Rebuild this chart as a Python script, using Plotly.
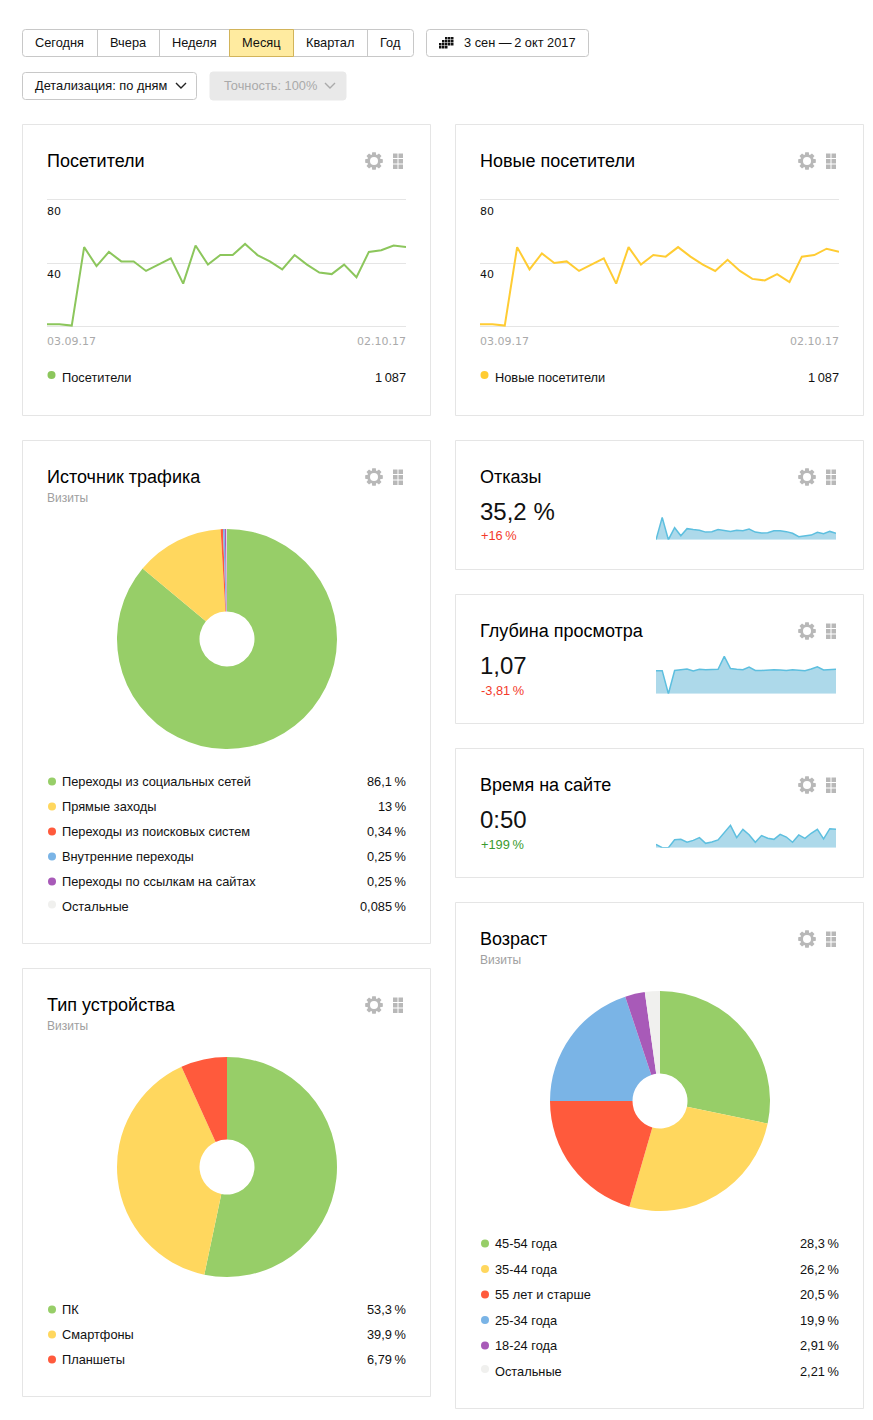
import math
import pandas as pd
import plotly.graph_objects as go

WIDTH = 873
HEIGHT = 1420
FONT = 'Liberation Sans'
TICK_FONT = 'DejaVu Sans'
BODY_SIZE = 12.8

# data
days = pd.date_range('2017-09-03', '2017-10-02').strftime('%Y-%m-%d').tolist()
visitors = [1.4, 1.4, 0.6, 50, 38, 47, 41, 41, 35, 39, 43, 27, 51, 39, 45, 45, 52, 45, 41, 36, 45, 39, 34, 33, 39, 31, 47, 48, 51, 50]
new_visitors = [1.4, 1.4, 0.6, 50, 36, 46, 40, 41, 35, 39, 43, 27, 50, 39, 45, 44, 50, 44, 39, 35, 42, 35, 30, 29, 33, 28, 44, 45, 49, 47]
bounce = [0, 97, 0, 52, 17, 48, 44, 41, 33, 35, 44, 41, 36, 41, 39, 46, 33, 29, 30, 39, 39, 35, 28, 13, 16, 20, 32, 26, 36, 28]
depth = [1.0, 1.0, 0, 1.01, 1.04, 1.07, 0.99, 1.06, 1.04, 1.04, 1.06, 1.62, 1.09, 1.06, 1.04, 1.16, 1.01, 1.01, 1.04, 1.04, 1.03, 1.01, 1.04, 1.03, 1.0, 1.07, 1.17, 1.03, 1.06, 1.06]
site_time = [16, 0, 0, 38, 40, 26, 35, 48, 21, 27, 37, 72, 107, 48, 88, 62, 26, 58, 45, 40, 64, 51, 26, 61, 45, 69, 88, 42, 91, 88]

source_labels = ['Переходы из социальных сетей', 'Прямые заходы', 'Переходы из поисковых систем', 'Внутренние переходы', 'Переходы по ссылкам на сайтах', 'Остальные']
source_values = [86.1, 13, 0.34, 0.25, 0.25, 0.085]
source_text = ['86,1\u2009%', '13\u2009%', '0,34\u2009%', '0,25\u2009%', '0,25\u2009%', '0,085\u2009%']

device_labels = ['ПК', 'Смартфоны', 'Планшеты']
device_values = [53.3, 39.9, 6.79]
device_text = ['53,3\u2009%', '39,9\u2009%', '6,79\u2009%']

age_labels = ['45-54 года', '35-44 года', '55 лет и старше', '25-34 года', '18-24 года', 'Остальные']
age_values = [28.3, 26.2, 20.5, 19.9, 2.91, 2.21]
age_text = ['28,3\u2009%', '26,2\u2009%', '20,5\u2009%', '19,9\u2009%', '2,91\u2009%', '2,21\u2009%']

period_labels = ['Сегодня', 'Вчера', 'Неделя', 'Месяц', 'Квартал', 'Год']
period_edges = [22, 97, 159, 229, 293, 367, 414]
calendar_rows = [[2, 3, 4], [1, 2, 3, 4], [0, 1, 2, 3, 4], [0, 1, 2]]

PIE_COLORS = ['#97ce68', '#ffd75e', '#ff5a3c', '#7ab4e6', '#a85ab8', '#f0f0ee']
TEXT = '#111111'
BORDER = '#e5e5e5'
RED = '#f33a2a'
GREEN = '#3a9a2e'

fig = go.Figure()
shapes = []
annotations = []


def px(x):
    return x / WIDTH


def py(y):
    return 1 - y / HEIGHT


def text(x, y, s, size=BODY_SIZE, color=TEXT, anchor='left', family=FONT):
    annotations.append(dict(x=px(x), y=py(y), xref='paper', yref='paper', text=s, showarrow=False,
                            xanchor=anchor, yanchor='middle', borderpad=0, borderwidth=0, align=anchor,
                            font=dict(family=family, size=size, color=color)))


def rect(x0, y0, x1, y1, line=BORDER, fill='#ffffff', width=1):
    shapes.append(dict(type='rect', xref='paper', yref='paper', x0=px(x0), x1=px(x1), y0=py(y0), y1=py(y1),
                       line=dict(color=line, width=width), fillcolor=fill, layer='below'))


def button(x0, y0, x1, y1, line='#c8c8c8', fill='#ffffff', r=3):
    # rounded rectangle, plotly has no corner radius on rect shapes
    pts = [f'M {px(x0 + r)} {py(y0)}', f'L {px(x1 - r)} {py(y0)}', f'Q {px(x1)} {py(y0)} {px(x1)} {py(y0 + r)}',
           f'L {px(x1)} {py(y1 - r)}', f'Q {px(x1)} {py(y1)} {px(x1 - r)} {py(y1)}', f'L {px(x0 + r)} {py(y1)}',
           f'Q {px(x0)} {py(y1)} {px(x0)} {py(y1 - r)}', f'L {px(x0)} {py(y0 + r)}', f'Q {px(x0)} {py(y0)} {px(x0 + r)} {py(y0)} Z']
    shapes.append(dict(type='path', xref='paper', yref='paper', path=' '.join(pts), line=dict(color=line, width=1),
                       fillcolor=fill, layer='below'))


def dot(x, y, color, r=4):
    shapes.append(dict(type='circle', xref='paper', yref='paper', x0=px(x - r), x1=px(x + r), y0=py(y - r), y1=py(y + r),
                       line=dict(width=0), fillcolor=color))


def chevron(x, y, color):
    p = f'M {px(x - 5)} {py(y - 2.5)} L {px(x)} {py(y + 2.5)} L {px(x + 5)} {py(y - 2.5)}'
    shapes.append(dict(type='path', xref='paper', yref='paper', path=p, line=dict(color=color, width=1.4)))


def gear(cx, cy):
    pts = []
    for i in range(8):
        a = i * math.pi / 4
        for da, r in [(-0.33, 6.6), (-0.2, 9), (0.2, 9), (0.33, 6.6)]:
            pts.append((cx + r * math.cos(a + da), cy + r * math.sin(a + da)))
    p = 'M ' + ' L '.join(f'{px(a)} {py(b)}' for a, b in pts) + ' Z'
    shapes.append(dict(type='path', xref='paper', yref='paper', path=p, line=dict(width=0), fillcolor='#b8b8b8'))
    dot(cx, cy, '#ffffff', 4)


def icons(x, y):
    # gear and drag handle in the card corner
    gear(x, y)
    for col in [0, 5.5]:
        for row in [0, 5.5, 11]:
            shapes.append(dict(type='rect', xref='paper', yref='paper', x0=px(x + 19 + col), x1=px(x + 23.5 + col),
                               y0=py(y - 7.5 + row), y1=py(y - 3 + row), line=dict(width=0), fillcolor='#b8b8b8'))


def card(x0, y0, x1, y1, title, subtitle=None):
    rect(x0 + 0.5, y0 + 0.5, x1 - 0.5, y1 - 0.5)
    text(x0 + 25, y0 + 37, title, size=18, color='#000000')
    if subtitle:
        text(x0 + 25, y0 + 58, subtitle, size=12, color='#a0a0a0')
    icons(x0 + 352, y0 + 37)


def axes(n, x0, y0, x1, y1, yrange, grid):
    fig.update_layout({
        f'xaxis{n}': dict(domain=[px(x0), px(x1)], range=[days[0], days[-1]], type='date', visible=False, anchor=f'y{n}'),
        f'yaxis{n}': dict(domain=[py(y1), py(y0)], range=yrange, anchor=f'x{n}', showticklabels=False, zeroline=False,
                          showline=False, ticks='', tickvals=grid, showgrid=bool(grid), gridcolor='#e5e5e5', gridwidth=1,
                          visible=bool(grid)),
    })


def line_card(n, x0, title, values, color):
    card(x0, 124, x0 + 409, 416, title)
    left, right = x0 + 25, x0 + 384
    # 10px of slack above and below so plotly keeps the 0 and 80 gridlines
    axes(n, left, 189.5, right, 336.5, [-6.3, 86.3], [0, 40, 80])
    fig.add_trace(go.Scatter(x=days, y=values, mode='lines', xaxis=f'x{n}', yaxis=f'y{n}', cliponaxis=False,
                             line=dict(color=color, width=2), hoverinfo='skip'))
    for tick in [80, 40]:
        annotations.append(dict(x=days[0], y=tick, xref=f'x{n}', yref=f'y{n}', text=str(tick), showarrow=False, xanchor='left',
                                yanchor='top', xshift=-1, yshift=-5 if tick == 80 else -4, borderpad=0,
                                font=dict(family=TICK_FONT, size=11, color=TEXT)))
    text(left, 341, '03.09.17', size=11, color='#aaaaaa', family=TICK_FONT)
    text(right, 341, '02.10.17', size=11, color='#aaaaaa', anchor='right', family=TICK_FONT)
    dot(left + 4.5, 375, color)
    text(left + 15, 377.5, title)
    text(right, 377.5, '1\u2009087', anchor='right')


def metric_card(n, y0, title, value, delta, delta_color, values, yrange, base):
    card(455, y0, 864, y0 + 130, title)
    text(480, y0 + 71.5, value, size=24)
    text(481, y0 + 96, delta, color=delta_color)
    axes(n, 656, base - 38, 836, base, yrange, [])
    fig.add_trace(go.Scatter(x=days, y=values, mode='lines', fill='tozeroy', xaxis=f'x{n}', yaxis=f'y{n}', cliponaxis=False,
                             line=dict(color='#5dbfdf', width=1.5), fillcolor='#add9ea', hoverinfo='skip'))


def pie_card(x0, y0, y1, title, labels, values, labels_text, cy, legend_y, step):
    card(x0, y0, x0 + 409, y1, title, 'Визиты')
    cx = x0 + 205
    fig.add_trace(go.Pie(values=values, labels=labels, sort=False, direction='clockwise', rotation=0, hole=0.25,
                         textinfo='none', hoverinfo='skip', showlegend=False,
                         marker=dict(colors=PIE_COLORS, line=dict(width=0)),
                         domain=dict(x=[px(cx - 110), px(cx + 110)], y=[py(cy + 110), py(cy - 110)])))
    for i, label in enumerate(labels):
        yy = legend_y + i * step
        # the pale "Остальные" dot sits a little higher in the original
        dot(x0 + 30, yy - (2 if label == 'Остальные' else 0), PIE_COLORS[i])
        text(x0 + 40, yy, label)
        text(x0 + 384, yy, labels_text[i], anchor='right')


# toolbar
button(22.5, 29.5, 413.5, 56.5)
for i, label in enumerate(period_labels):
    if label == 'Месяц':
        rect(period_edges[i] + 0.5, 29.5, period_edges[i + 1] + 0.5, 56.5, line='#d2b45a', fill='#ffeba0')
    elif i > 0 and period_labels[i - 1] != 'Месяц':
        shapes.append(dict(type='line', xref='paper', yref='paper', x0=px(period_edges[i] + 0.5), x1=px(period_edges[i] + 0.5),
                           y0=py(30), y1=py(56), line=dict(color='#c8c8c8', width=1)))
    text((period_edges[i] + period_edges[i + 1]) / 2, 43, label, anchor='center')

button(426.5, 29.5, 588.5, 56.5)
for row, cols in enumerate(calendar_rows):
    for col in cols:
        shapes.append(dict(type='rect', xref='paper', yref='paper', x0=px(439 + col * 3), x1=px(441.5 + col * 3),
                           y0=py(37 + row * 3), y1=py(39.5 + row * 3), line=dict(width=0), fillcolor='#111111'))
text(464, 43, '3 сен —\u20092 окт 2017')

button(22.5, 72.5, 196.5, 99.5)
text(35, 85.5, 'Детализация: по дням')
chevron(181, 85.5, '#222222')
button(210, 72, 346, 100, line='#e9e9e9', fill='#e9e9e9')
text(223.5, 85.5, 'Точность: 100%', color='#aaaaaa')
chevron(330, 85.5, '#aaaaaa')

# cards
line_card(1, 22, 'Посетители', visitors, '#8cc65c')
line_card(2, 455, 'Новые посетители', new_visitors, '#ffcc33')
metric_card(3, 440, 'Отказы', '35,2 %', '+16\u2009%', RED, bounce, [0, 165], 539.7)
metric_card(4, 594, 'Глубина просмотра', '1,07', '-3,81\u2009%', RED, depth, [0, 1.65], 693.7)
metric_card(5, 748, 'Время на сайте', '0:50', '+199\u2009%', GREEN, site_time, [0, 182], 847.7)
pie_card(22, 440, 944, 'Источник трафика', source_labels, source_values, source_text, 639, 781.5, 25)
pie_card(22, 968, 1397, 'Тип устройства', device_labels, device_values, device_text, 1167, 1309.5, 25)
pie_card(455, 902, 1409, 'Возраст', age_labels, age_values, age_text, 1101, 1243.5, 25.5)

fig.update_layout(width=WIDTH, height=HEIGHT, margin=dict(l=0, r=0, t=0, b=0), showlegend=False,
                  paper_bgcolor='#ffffff', plot_bgcolor='rgba(0,0,0,0)', font=dict(family=FONT),
                  shapes=shapes, annotations=annotations)

fig.write_html('out.html', config={'displayModeBar': False},
               post_script="document.body.style.margin='0';")
